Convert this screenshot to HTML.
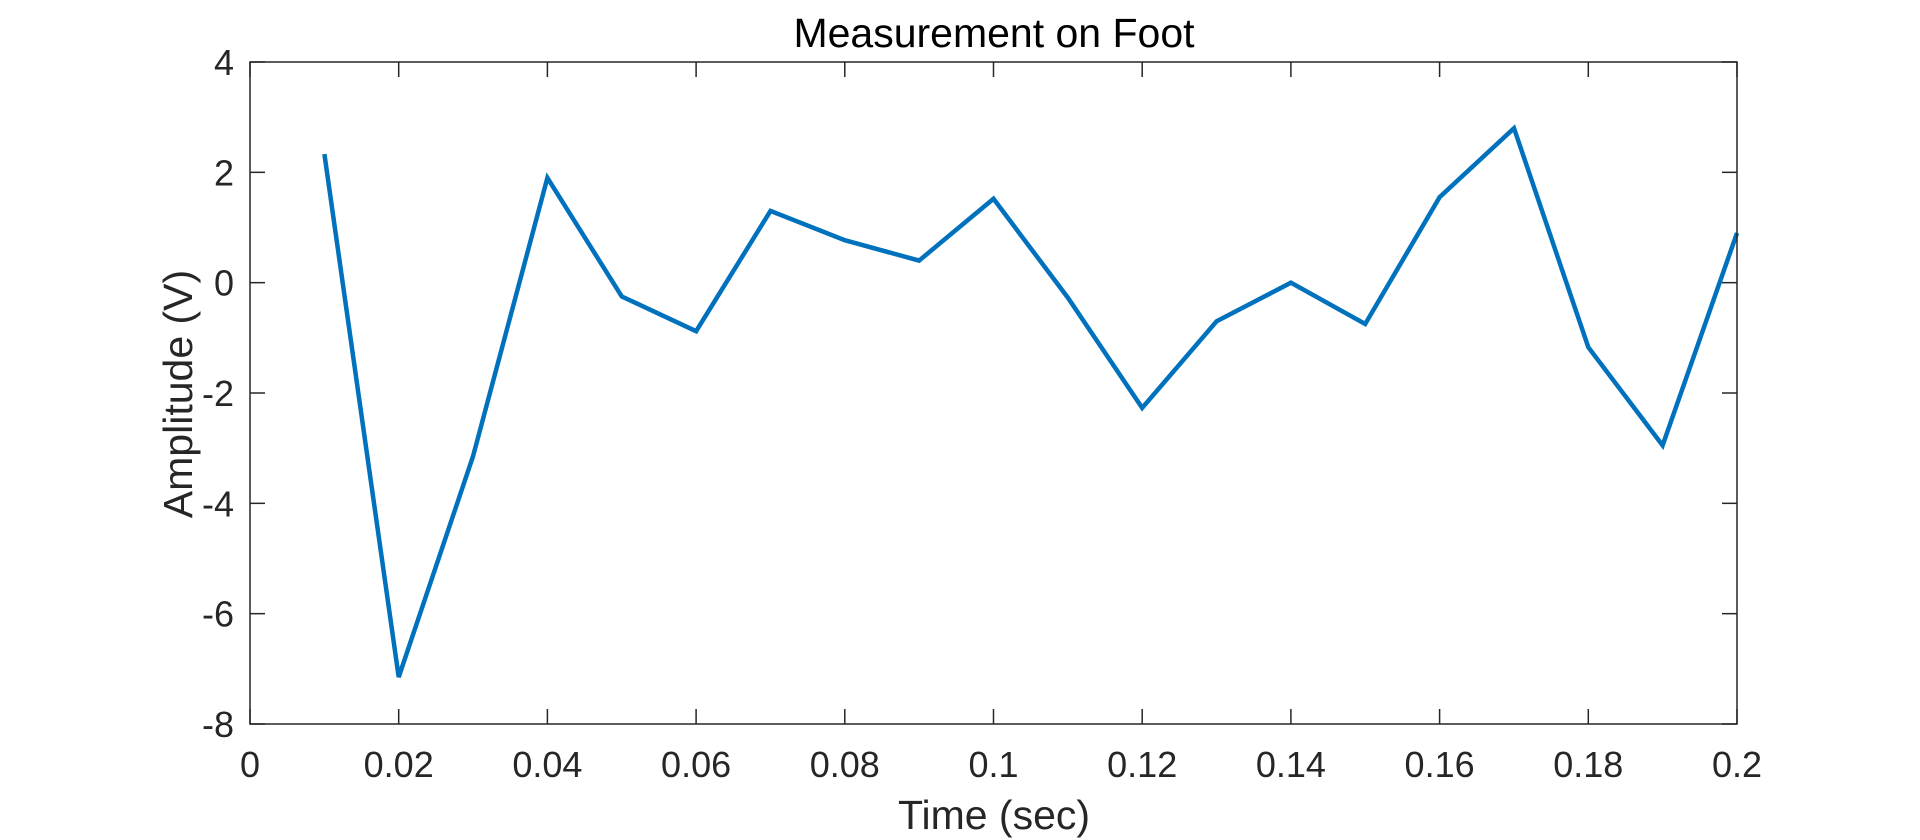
<!DOCTYPE html>
<html><head><meta charset="utf-8"><style>
html,body{margin:0;padding:0;background:#fff;width:1920px;height:840px;overflow:hidden}
svg text{font-family:"Liberation Sans",sans-serif;fill:#262626}
</style></head><body>
<svg id="chart" width="1920" height="840" viewBox="0 0 1920 840" xmlns="http://www.w3.org/2000/svg">
<rect x="250" y="62" width="1487" height="662" fill="#fff"/>
<g id="ticks"></g>
<g id="series"></g>
<rect x="250" y="62" width="1487" height="662" fill="none" stroke="#262626" stroke-width="1.5"/>
<text x="994" y="47" font-size="41" text-anchor="middle" style="fill:#000">Measurement on Foot</text>
<text x="994" y="829" font-size="41" text-anchor="middle">Time (sec)</text>
<text transform="translate(192,394) rotate(-90)" font-size="41" text-anchor="middle">Amplitude (V)</text>
</svg>
<script>
const xValues=[0.01,0.02,0.03,0.04,0.05,0.06,0.07,0.08,0.09,0.10,0.11,0.12,0.13,0.14,0.15,0.16,0.17,0.18,0.19,0.20];
const yValues=[2.33,-7.15,-3.15,1.9,-0.25,-0.88,1.3,0.77,0.4,1.52,-0.27,-2.27,-0.7,0.0,-0.75,1.55,2.8,-1.17,-2.95,0.9];
const xTicks=[0,0.02,0.04,0.06,0.08,0.1,0.12,0.14,0.16,0.18,0.2];
const xTickLabels=["0","0.02","0.04","0.06","0.08","0.1","0.12","0.14","0.16","0.18","0.2"];
const yTicks=[-8,-6,-4,-2,0,2,4];
const yTickLabels=["-8","-6","-4","-2","0","2","4"];
const L=250,R=1737,T=62,B=724;
const xs=v=>L+(v-0)/(0.2-0)*(R-L);
const ys=v=>B-(v+8)/12*(B-T);
const NS="http://www.w3.org/2000/svg";
const tg=document.getElementById('ticks');
function mk(tag,attrs,parent){const e=document.createElementNS(NS,tag);for(const k in attrs)e.setAttribute(k,attrs[k]);parent.appendChild(e);return e;}
xTicks.forEach((t,i)=>{
  const x=xs(t);
  const a=mk('line',{x1:x,x2:x,y1:B,y2:B-15,stroke:'#262626','stroke-width':1.5},tg);
  
  
  const b=mk('line',{x1:x,x2:x,y1:T,y2:T+15,stroke:'#262626','stroke-width':1.5},tg);
  
  
  const tx=mk('text',{x:x,y:777,'font-size':36,'text-anchor':'middle'},tg);
  tx.textContent=xTickLabels[i];
  
  
});
yTicks.forEach((t,i)=>{
  const y=ys(t);
  const a=mk('line',{x1:L,x2:L+15,y1:y,y2:y,stroke:'#262626','stroke-width':1.5},tg);
  
  
  const b=mk('line',{x1:R,x2:R-15,y1:y,y2:y,stroke:'#262626','stroke-width':1.5},tg);
  
  
  const tx=mk('text',{x:L-16,y:y+13,'font-size':36,'text-anchor':'end'},tg);
  tx.textContent=yTickLabels[i];
  
  
});
const pts=xValues.map((v,i)=>xs(v).toFixed(1)+','+ys(yValues[i]).toFixed(1)).join(' ');
const pl=mk('polyline',{points:pts,fill:'none',stroke:'#0072BD','stroke-width':4.5,'stroke-linejoin':'miter'},document.getElementById('series'));


</script>
</body></html>
